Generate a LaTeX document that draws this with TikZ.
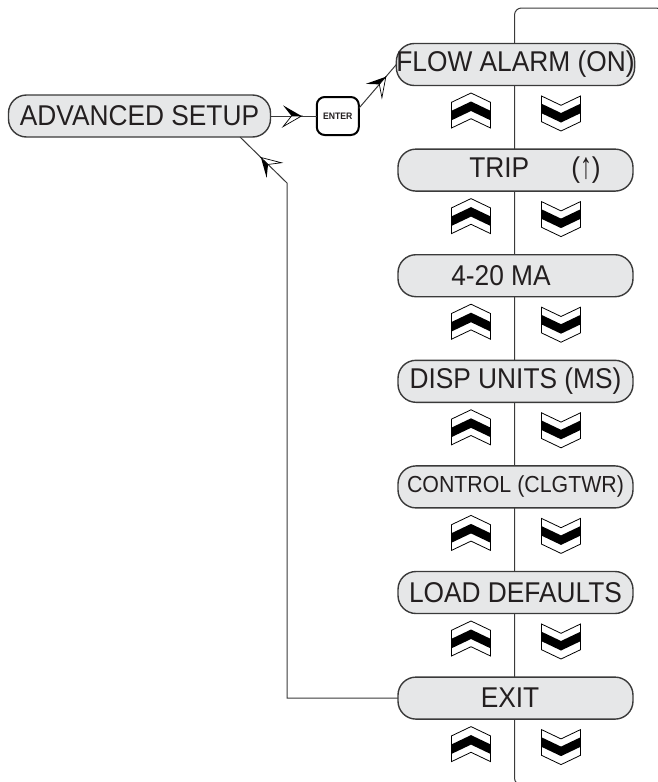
\documentclass[tikz,border=0pt]{standalone}
\usepackage{fontspec}
\usepackage{graphicx}
\setmainfont{Liberation Sans}[FakeStretch=0.92]
\usetikzlibrary{positioning,calc,decorations.markings}

\definecolor{boxfill}{HTML}{E6E7E8}
\definecolor{boxline}{HTML}{3A3A3A}
\definecolor{txt}{HTML}{231F20}

\tikzset{
  menu/.style={draw=boxline, fill=boxfill, line width=0.7pt, rounded corners=9pt,
    minimum width=117.5pt, minimum height=21pt, inner sep=0pt, outer sep=0pt,
    text=txt, font=\fontsize{14.3}{16}\selectfont},
  enterkey/.style={draw=black, fill=white, line width=1pt, rounded corners=4pt,
    minimum width=21pt, minimum height=19pt, inner sep=0pt, outer sep=0pt,
    text=txt, font=\bfseries\fontsize{4.7}{5}\selectfont},
  wire/.style={draw=boxline, line width=0.5pt},
  rail/.style={draw=boxline, line width=0.5pt, rounded corners=3.5pt},
  halfarrow/.style={postaction={decorate}, decoration={markings,
    mark=at position #1 with {
      \fill[black] (0pt,0pt) -- (-9.2pt,5.3pt) -- (-5pt,0pt) -- cycle;
      \filldraw[fill=white, draw=black, line width=0.35pt]
        (0pt,0pt) -- (-5pt,0pt) -- (-9.2pt,-5.3pt) -- cycle;}}},
  chevron/.pic={
    \filldraw[fill=white, draw=black, line width=0.4pt] (0,-17.5) -- (19.5,-8.2)
      -- (19.5,17.5) -- (0,8.2) -- (-19.5,17.5) -- (-19.5,-8.2) -- cycle;
    \fill[black] (0,-9) -- (19.5,0.3) -- (19.5,9.8) -- (0,0.5) -- (-19.5,9.8)
      -- (-19.5,0.3) -- cycle;}
}

\begin{document}
\begin{tikzpicture}[x=0.5pt, y=-0.5pt, node distance=31.8pt]
  \useasboundingbox (0,0) rectangle (658,782);

  % rail behind the menu column
  \coordinate (railtop) at (514.5,8);
  \coordinate (railbot) at (514.5,785);
  \draw[rail] (663,60) |- (railtop) -- (railbot) -- ++(60,0);

  \node[menu] (flow) at (515.5,64.5) {FLOW ALARM (ON)};
  \node[menu, below=of flow] (trip) {\hspace*{19.5pt}TRIP\hspace{21pt}(\raisebox{-0.5pt}{\scalebox{0.9}[1.3]{↑}})};
  \node[menu, below=of trip] (ma) {4-20 MA\hspace*{14.5pt}};
  \node[menu, below=of ma] (disp) {DISP UNITS (MS)};
  \node[menu, below=of disp, font=\fontsize{11.6}{13}\selectfont] (ctrl) {CONTROL (CLGTWR)};
  \node[menu, below=of ctrl] (load) {LOAD DEFAULTS};
  \node[menu, below=of load] (exit) {EXIT\hspace*{5.5pt}};

  \node[menu, minimum width=131pt] (adv) at (139.5,116) {ADVANCED SETUP};
  \node[enterkey, right=23.15pt of adv] (enter) {ENTER};

  \foreach \b in {flow,trip,ma,disp,ctrl,load,exit}{
    \pic at ($(\b.south)+(-44.5,25)$) {chevron};
    \pic[yscale=-1] at ($(\b.south)+(45.5,28)$) {chevron};
  }

  \coordinate (ret) at (287,183);
  \draw[wire, halfarrow=0.67] (adv.east) -- (enter.west);
  \draw[wire, halfarrow=0.72] (enter.20) -- (flow.west);
  \draw[wire, halfarrow=-14.6pt] (exit.west) -| (ret) -- ($(adv.south)+(100.5,0)$);
\end{tikzpicture}
\end{document}
